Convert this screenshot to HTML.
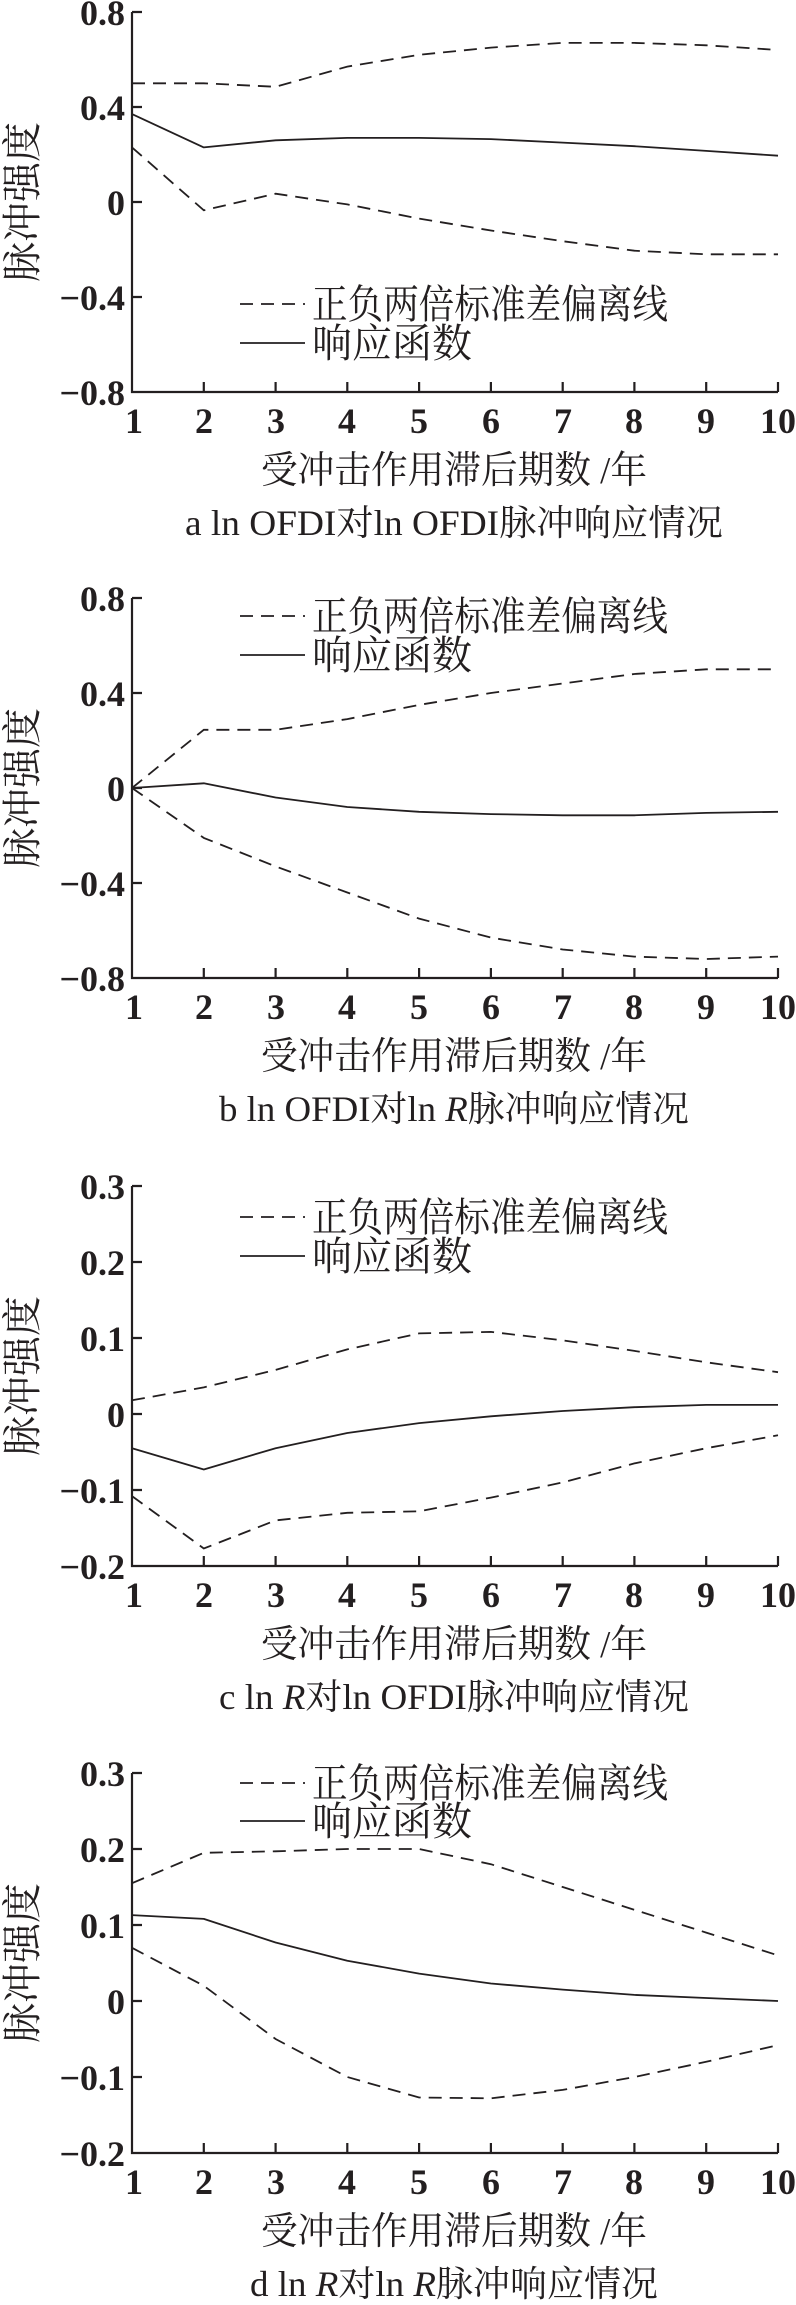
<!DOCTYPE html>
<html><head><meta charset="utf-8"><style>
html,body{margin:0;padding:0;background:#fff;}
svg{display:block;}
.n{font-family:"Liberation Serif",serif;font-weight:bold;font-size:36px;fill:#231f20;}
.c{font-family:"Liberation Serif","Noto Serif CJK SC",serif;fill:#231f20;}
.ax{stroke:#231f20;stroke-width:2.2;fill:none;}
.s{stroke:#231f20;stroke-width:1.8;fill:none;stroke-linejoin:round;}
.d{stroke:#231f20;stroke-width:1.8;fill:none;stroke-dasharray:13 8;}
</style></head><body>
<svg width="796" height="2305" viewBox="0 0 796 2305" xmlns="http://www.w3.org/2000/svg">
<defs>
<g id="xt">
<path class="ax" d="M203.8 380v-10M275.6 380v-10M347.3 380v-10M419.1 380v-10M490.9 380v-10M562.7 380v-10M634.4 380v-10M706.2 380v-10M778 380v-10"/>
<g class="n" text-anchor="middle">
<text x="134" y="421">1</text><text x="204" y="421">2</text><text x="276" y="421">3</text><text x="347" y="421">4</text><text x="419" y="421">5</text><text x="491" y="421">6</text><text x="563" y="421">7</text><text x="634" y="421">8</text><text x="706" y="421">9</text><text x="778" y="421">10</text>
</g>
<text class="c" x="454" y="471" font-size="38" text-anchor="middle" textLength="386" lengthAdjust="spacingAndGlyphs">受冲击作用滞后期数 /年</text>
<text class="c" x="22" y="190" font-size="40" text-anchor="middle" transform="rotate(-90 22 190)" dy="14">脉冲强度</text>
</g>
</defs>

<!-- Chart a -->
<g transform="translate(0,12)">
<path class="ax" d="M132 0v380h646M132 0h10M132 95h10M132 190h10M132 285h10"/>
<g class="n" text-anchor="end">
<text x="125" y="13">0.8</text><text x="125" y="108">0.4</text><text x="125" y="203">0</text><text x="125" y="298">−0.4</text><text x="125" y="393">−0.8</text>
</g>
<use href="#xt"/>
<polyline class="d" points="132,71.3 203.8,71.3 275.6,74.8 347.3,54.6 419.1,42.8 490.9,35.6 562.7,30.9 634.4,30.9 706.2,33.3 778,38"/>
<polyline class="s" points="132,102.1 203.8,135.4 275.6,128.3 347.3,125.9 419.1,125.9 490.9,127.1 562.7,130.6 634.4,134.2 706.2,138.9 778,143.7"/>
<polyline class="d" points="132,135.4 203.8,198.3 275.6,181.7 347.3,192.4 419.1,206.6 490.9,218.5 562.7,229.2 634.4,238.7 706.2,242.3 778,242.3"/>
<path class="d" d="M240 292h65"/><path class="s" d="M240 331h65"/>
<text class="c" x="312" y="306" font-size="40" textLength="356" lengthAdjust="spacingAndGlyphs">正负两倍标准差偏离线</text>
<text class="c" x="312" y="345" font-size="40">响应函数</text>
<text class="c" x="454" y="523" font-size="36" text-anchor="middle" textLength="538" lengthAdjust="spacingAndGlyphs">a  ln OFDI对ln OFDI脉冲响应情况</text>
</g>

<!-- Chart b -->
<g transform="translate(0,598)">
<path class="ax" d="M132 0v380h646M132 0h10M132 95h10M132 190h10M132 285h10"/>
<g class="n" text-anchor="end">
<text x="125" y="13">0.8</text><text x="125" y="108">0.4</text><text x="125" y="203">0</text><text x="125" y="298">−0.4</text><text x="125" y="393">−0.8</text>
</g>
<use href="#xt"/>
<polyline class="d" points="132,190 203.8,131.8 275.6,131.8 347.3,121.1 419.1,106.9 490.9,95 562.7,85.5 634.4,76 706.2,71.3 778,71.3"/>
<polyline class="s" points="132,190 203.8,185.3 275.6,199.5 347.3,209 419.1,213.8 490.9,216.1 562.7,217.3 634.4,217.3 706.2,214.9 778,213.8"/>
<polyline class="d" points="132,190 203.8,239.9 275.6,268.4 347.3,294.5 419.1,320.6 490.9,339.6 562.7,351.5 634.4,358.6 706.2,361 778,358.6"/>
<path class="d" d="M240 18h65"/><path class="s" d="M240 57h65"/>
<text class="c" x="312" y="32" font-size="40" textLength="356" lengthAdjust="spacingAndGlyphs">正负两倍标准差偏离线</text>
<text class="c" x="312" y="71" font-size="40">响应函数</text>
<text class="c" x="454" y="523" font-size="36" text-anchor="middle" textLength="470" lengthAdjust="spacingAndGlyphs">b  ln OFDI对ln <tspan font-style="italic">R</tspan>脉冲响应情况</text>
</g>

<!-- Chart c -->
<g transform="translate(0,1186)">
<path class="ax" d="M132 0v380h646M132 0h10M132 76h10M132 152h10M132 228h10M132 304h10"/>
<g class="n" text-anchor="end">
<text x="125" y="13">0.3</text><text x="125" y="89">0.2</text><text x="125" y="165">0.1</text><text x="125" y="241">0</text><text x="125" y="317">−0.1</text><text x="125" y="393">−0.2</text>
</g>
<use href="#xt"/>
<polyline class="d" points="132,214.3 203.8,201.4 275.6,183.9 347.3,163.4 419.1,147.4 490.9,145.9 562.7,154.3 634.4,164.9 706.2,176.3 778,186.2"/>
<polyline class="s" points="132,262.2 203.8,283.5 275.6,262.2 347.3,247 419.1,237.1 490.9,230.3 562.7,225 634.4,221.2 706.2,218.9 778,218.9"/>
<polyline class="d" points="132,310.1 203.8,362.5 275.6,334.4 347.3,326.8 419.1,325.3 490.9,311.6 562.7,296.4 634.4,277.4 706.2,262.2 778,249.3"/>
<path class="d" d="M240 31h65"/><path class="s" d="M240 70h65"/>
<text class="c" x="312" y="45" font-size="40" textLength="356" lengthAdjust="spacingAndGlyphs">正负两倍标准差偏离线</text>
<text class="c" x="312" y="84" font-size="40">响应函数</text>
<text class="c" x="454" y="523" font-size="36" text-anchor="middle" textLength="470" lengthAdjust="spacingAndGlyphs">c  ln <tspan font-style="italic">R</tspan>对ln OFDI脉冲响应情况</text>
</g>

<!-- Chart d -->
<g transform="translate(0,1773)">
<path class="ax" d="M132 0v380h646M132 0h10M132 76h10M132 152h10M132 228h10M132 304h10"/>
<g class="n" text-anchor="end">
<text x="125" y="13">0.3</text><text x="125" y="89">0.2</text><text x="125" y="165">0.1</text><text x="125" y="241">0</text><text x="125" y="317">−0.1</text><text x="125" y="393">−0.2</text>
</g>
<use href="#xt"/>
<polyline class="d" points="132,110.2 203.8,79.8 275.6,78.3 347.3,76 419.1,76 490.9,91.2 562.7,114 634.4,136.8 706.2,159.6 778,182.4"/>
<polyline class="s" points="132,142.1 203.8,145.9 275.6,169.5 347.3,187.7 419.1,200.6 490.9,210.5 562.7,216.6 634.4,221.9 706.2,225 778,228"/>
<polyline class="d" points="132,174.8 203.8,212.8 275.6,266 347.3,304 419.1,324.5 490.9,325.3 562.7,316.9 634.4,304 706.2,288.8 778,272.1"/>
<path class="d" d="M240 10h65"/><path class="s" d="M240 48h65"/>
<text class="c" x="312" y="24" font-size="40" textLength="356" lengthAdjust="spacingAndGlyphs">正负两倍标准差偏离线</text>
<text class="c" x="312" y="62" font-size="40">响应函数</text>
<text class="c" x="454" y="523" font-size="36" text-anchor="middle" textLength="408" lengthAdjust="spacingAndGlyphs">d  ln <tspan font-style="italic">R</tspan>对ln <tspan font-style="italic">R</tspan>脉冲响应情况</text>
</g>
</svg>
</body></html>
